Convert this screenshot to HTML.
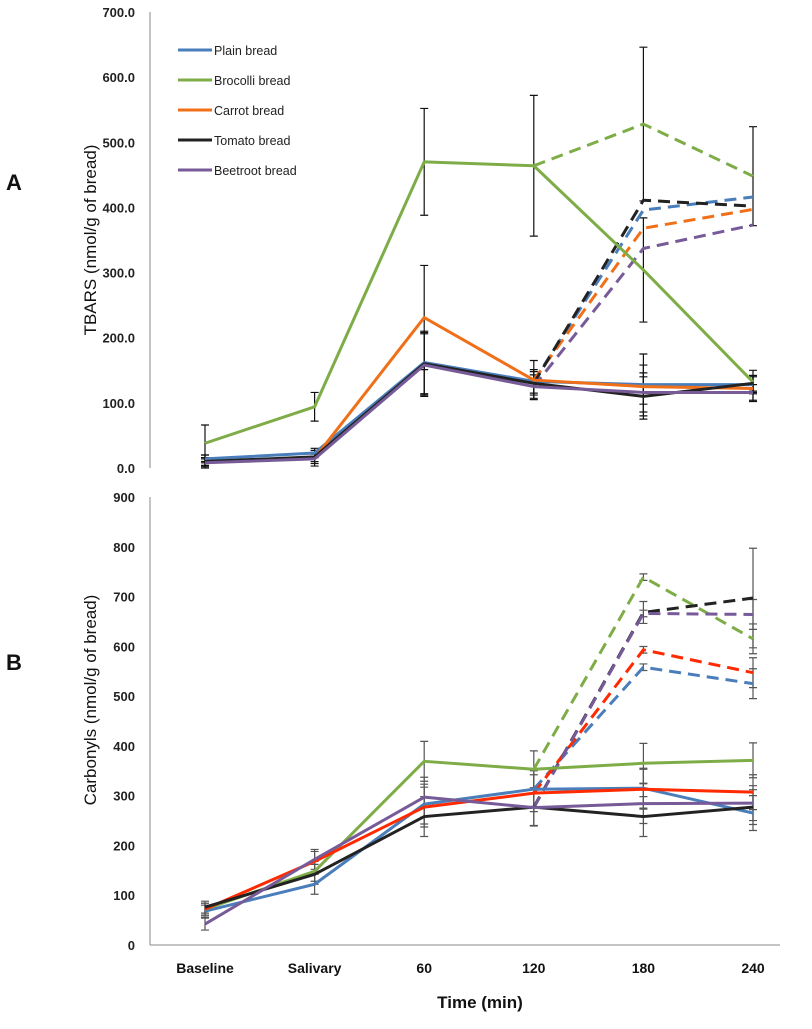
<!DOCTYPE html>
<html><head><meta charset="utf-8"><style>
body{margin:0;background:#fff;}
svg text{font-family:"Liberation Sans",sans-serif;}
</style></head><body>
<svg id="chart" width="812" height="1024" viewBox="0 0 812 1024" xmlns="http://www.w3.org/2000/svg">
<g id="gA"></g>
<g id="gB"></g>
</svg>
<script>
const categories = ["Baseline","Salivary","60","120","180","240"];
const seriesNames = ["Plain bread","Brocolli bread","Carrot bread","Tomato bread","Beetroot bread"];
const colorsA = ["#4a7ebb","#7ead47","#f0701a","#222222","#775a98"];
const colorsB = ["#4a7ebb","#7ead47","#ff2a00","#222222","#775a98"];
const ticksA = ["0.0","100.0","200.0","300.0","400.0","500.0","600.0","700.0"];
const ticksB = ["0","100","200","300","400","500","600","700","800","900"];
// Chart A solid (6 points) and dashed (from 120: 3 points)
const plainA = [14,23,162,133,128,128];
const brocA = [38,94,470,464,304,132];
const carrotA = [10,15,231,135,125,122];
const tomatoA = [10,17,160,130,110,130];
const beetA = [8,14,158,125,116,116];
const plainAd = [133,396,416];
const brocAd = [464,528,448];
const carrotAd = [135,368,397];
const tomatoAd = [130,411,402];
const beetAd = [125,337,373];
const errA = [10,12,80,30,50,20];
const errBrocA = [28,22,82,108,80,18];
const errBrocAd = [0,118,76];
// Chart B
const plainB = [68,122,283,313,315,265];
const brocB = [72,148,369,353,365,371];
const carrotB = [72,168,277,305,313,307];
const tomatoB = [76,142,258,277,258,277];
const beetB = [42,172,297,276,284,285];
const plainBd = [313,558,525];
const brocBd = [353,739,615];
const carrotBd = [305,593,547];
const tomatoBd = [277,668,697];
const beetBd = [276,666,664];
const errB = [12,20,40,37,40,35];
const errBd = [0,22,100];

const NS="http://www.w3.org/2000/svg";
function mk(p,t,a){const e=document.createElementNS(NS,t);for(const k in a)e.setAttribute(k,a[k]);p.appendChild(e);return e;}
const xPos = i => 205 + i*109.6;
const yA = v => 468 - v*0.6514;
const yB = v => 945 - v*0.4978;

function axes(g,y,ticks,step,top,bottom,title,tcy,letter,ly,xline){
  const ax=mk(g,'line',{x1:150,y1:top,x2:150,y2:bottom,stroke:'#888','stroke-width':1});
  
  
  if(xline){const xl=mk(g,'line',{x1:150,y1:bottom,x2:780,y2:bottom,stroke:'#888','stroke-width':1});
    
    }
  ticks.forEach((t,i)=>{const tx=mk(g,'text',{x:135,y:y(i*step)+5,'text-anchor':'end','font-size':13,'font-weight':'bold',fill:'#222'});tx.textContent=t;
    
    });
  const tt=mk(g,'text',{x:0,y:0,transform:`translate(96,${tcy}) rotate(-90)`,'text-anchor':'middle','font-size':17,fill:'#111'});tt.textContent=title;
  
  
  const l=mk(g,'text',{x:6,y:ly,'font-size':22,'font-weight':'bold',fill:'#111'});l.textContent=letter;
  
  
}
function errbar(g,i,v,e,y,col){ if(!e)return;
  const x=xPos(i);
  const b=mk(g,'path',{d:`M${x},${y(v+e)}V${y(Math.max(0,v-e))}M${x-4},${y(v+e)}h8M${x-4},${y(Math.max(0,v-e))}h8`,stroke:col,'stroke-width':1.2,fill:'none'});
  
  
}
function line(g,vals,off,y,col,dash,name){
  const d=vals.map((v,i)=>(i?'L':'M')+xPos(i+off)+','+y(v)).join('');
  const p=mk(g,'path',{d:d,stroke:col,'stroke-width':3,fill:'none','stroke-dasharray':dash?'12,7':'none','stroke-linejoin':'round'});
  
  
}
// Chart A
const gA=document.getElementById('gA');
axes(gA,yA,ticksA,100,12,468,'TBARS (nmol/g of bread)',240,'A',190,false);
const solidA=[plainA,brocA,carrotA,tomatoA,beetA], dashA=[plainAd,brocAd,carrotAd,tomatoAd,beetAd];
solidA.forEach((s,k)=>s.forEach((v,i)=>errbar(gA,i,v,k==1?errBrocA[i]:errA[i]*(k==2?1:0.6),yA,'#111')));
dashA.forEach((s,k)=>s.forEach((v,i)=>errbar(gA,i+3,v,k==1?errBrocAd[i]:0,yA,'#111')));
dashA.forEach((s,k)=>line(gA,s,3,yA,colorsA[k],true,'dashed-line-'+k));
solidA.forEach((s,k)=>line(gA,s,0,yA,colorsA[k],false,'solid-line-'+k));
// legend
seriesNames.forEach((n,k)=>{const y=50+k*30;
  const lg=mk(gA,'g',{});
  
  
  mk(lg,'line',{x1:178,y1:y,x2:212,y2:y,stroke:colorsA[k],'stroke-width':3});
  const t=mk(lg,'text',{x:214,y:y+5,'font-size':12.5,fill:'#222'});t.textContent=n;});
// Chart B
const gB=document.getElementById('gB');
axes(gB,yB,ticksB,100,497,945,'Carbonyls (nmol/g of bread)',700,'B',670,true);
const solidB=[plainB,brocB,carrotB,tomatoB,beetB], dashB=[plainBd,brocBd,carrotBd,tomatoBd,beetBd];
solidB.forEach((s,k)=>s.forEach((v,i)=>errbar(gB,i,v,errB[i],yB,'#555')));
dashB.forEach((s,k)=>s.forEach((v,i)=>errbar(gB,i+3,v,errBd[i]*(k==3?1:0.3),yB,'#555')));
dashB.forEach((s,k)=>line(gB,s,3,yB,colorsB[k],true,'dashed-line-'+k));
solidB.forEach((s,k)=>line(gB,s,0,yB,colorsB[k],false,'solid-line-'+k));
categories.forEach((c,i)=>{const t=mk(gB,'text',{x:xPos(i),y:973,'text-anchor':'middle','font-size':14,'font-weight':'bold',fill:'#111'});t.textContent=c;
  
  });
const xt=mk(gB,'text',{x:480,y:1008,'text-anchor':'middle','font-size':17,'font-weight':'bold',fill:'#111'});xt.textContent='Time (min)';


</script>
</body></html>
